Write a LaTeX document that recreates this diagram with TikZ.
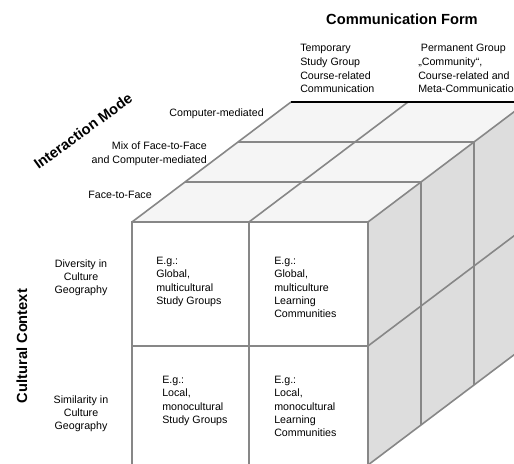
\documentclass[tikz,border=0pt]{standalone}
\usepackage{fontspec}
\setmainfont{Liberation Sans}
\definecolor{cubeline}{RGB}{135,135,135}
\definecolor{topface}{RGB}{245,245,245}
\definecolor{sideface}{RGB}{221,221,221}
\begin{document}
\begin{tikzpicture}[x=0.75pt,y=-0.75pt,
  lbl/.style={font=\fontsize{8}{10}\selectfont, inner sep=0pt},
  cell/.style={lbl, align=left, anchor=north west},
  axis/.style={font=\fontsize{11}{13}\selectfont\bfseries, inner sep=0pt},
  grid/.style={draw=cubeline, line width=1.2pt}]
\useasboundingbox (0,0) rectangle (514,464);
\begin{scope}
\clip (0,0) rectangle (514,464);
% Faces
\fill[topface] (132,222) -- (291,102) -- (527,102) -- (368,222) -- cycle;
\fill[sideface] (368,222) -- (527,102) -- (527,345) -- (368,465) -- cycle;

% Front face
\draw[grid] (132,465) -- (132,222) -- (368,222) -- (368,465);
\draw[grid] (249,222) -- (249,465);
\draw[grid] (132,346) -- (368,346);

% Top face
\draw[grid] (132,222) -- (291,102);
\draw[grid] (249,222) -- (408,102);
\draw[grid] (368,222) -- (527,102);
\draw[grid] (185,182) -- (421,182);
\draw[grid] (238,142) -- (474,142);

% Right face
\draw[grid] (421,182) -- (421,425);
\draw[grid] (474,142) -- (474,385);
\draw[grid] (368,346) -- (527,226);
\draw[grid] (368,465) -- (527,345);

% Back edge
\draw[black, line width=0.9pt] (291,102) -- (527,102);
\end{scope}

% Communication form (top)
\node[axis] (cf) at (402,19) {Communication Form};
\node[cell, font=\fontsize{8}{10.3}\selectfont] (tmp) at (300,44) {Temporary\\Study Group\\Course-related\\Communication};
\node[cell, font=\fontsize{8}{10.3}\selectfont] (perm) at (418,44) {\hspace{2pt}Permanent Group\\„Community“,\\Course-related and\\Meta-Communication};

% Interaction mode (depth)
\node[axis, rotate=36] (im) at (83,131) {Interaction Mode};
\node[lbl, anchor=east] (cm) at (264,114) {Computer-mediated};
\node[lbl, align=right, anchor=north east] (mix) at (207,142) {Mix of Face-to-Face\\and Computer-mediated};
\node[lbl, anchor=east] (ff) at (152,195) {Face-to-Face};

% Cultural context (left)
\node[axis, rotate=90] (cc) at (22,346) {Cultural Context};
\node[lbl, align=center, anchor=north] (div) at (81,259) {Diversity in\\Culture\\Geography};
\node[lbl, align=center, anchor=north] (sim) at (81,395) {Similarity in\\Culture\\Geography};

% Cells
\node[cell] (g1) at (156,257) {E.g.:\\Global,\\multicultural\\Study Groups};
\node[cell] (g2) at (274,257) {E.g.:\\Global,\\multiculture\\Learning\\Communities};
\node[cell] (l1) at (162,376) {E.g.:\\Local,\\monocultural\\Study Groups};
\node[cell] (l2) at (274,376) {E.g.:\\Local,\\monocultural\\Learning\\Communities};
\end{tikzpicture}
\end{document}
